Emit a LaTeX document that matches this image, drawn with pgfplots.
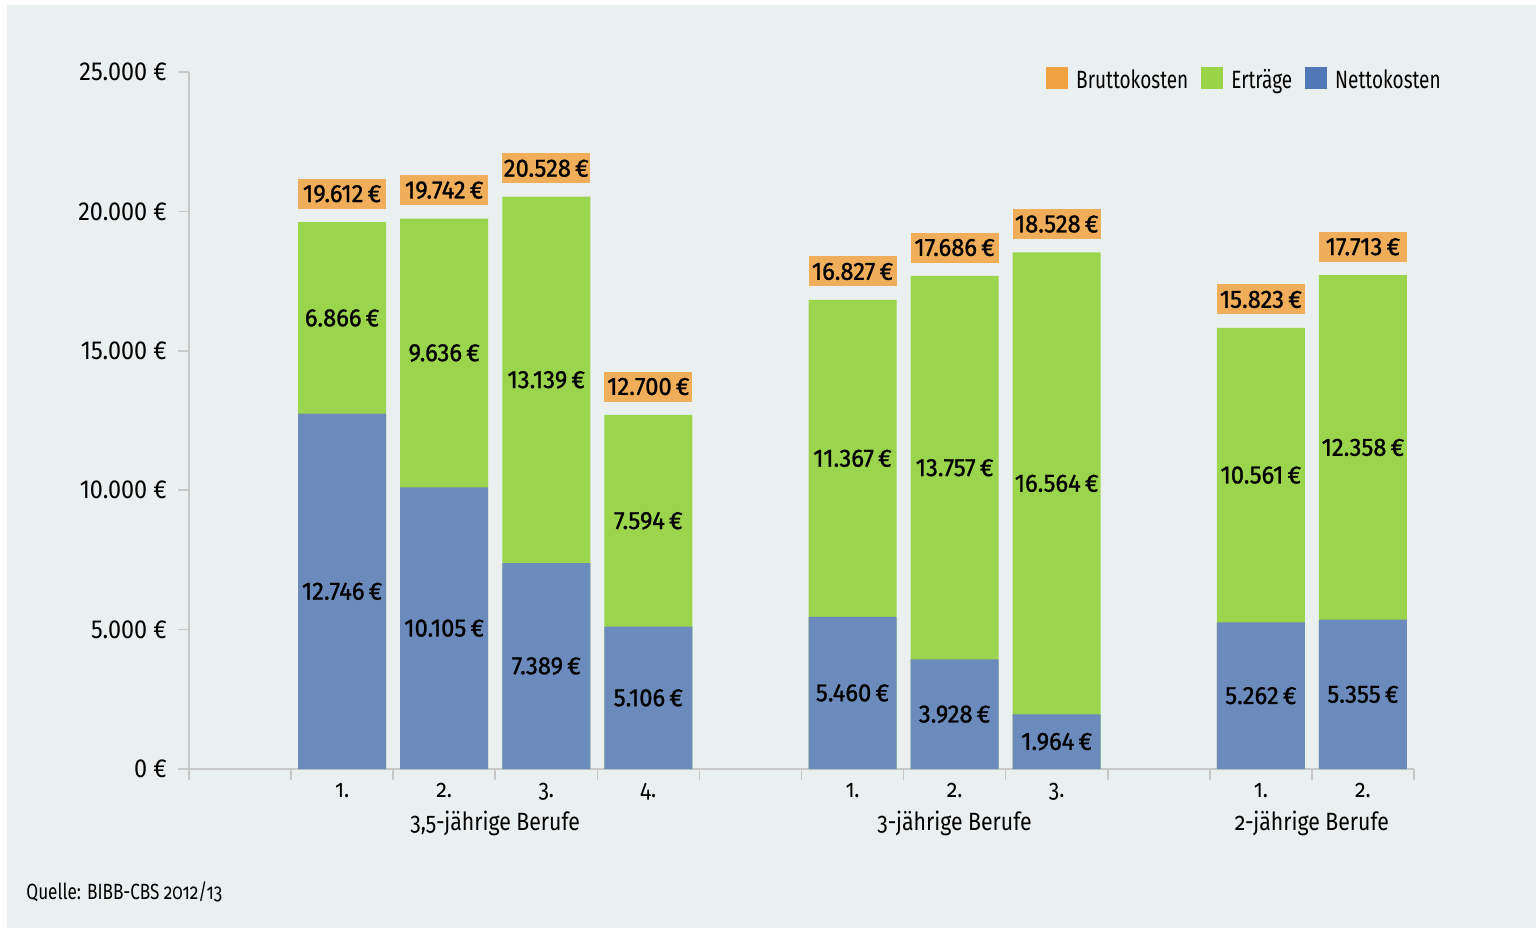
\documentclass[border=0pt]{standalone}
\usepackage{fontspec}
\setmainfont{Fira Sans}[FakeStretch=0.85]
\newfontfamily\osf{Fira Sans}[FakeStretch=0.85,Numbers=OldStyle]
\newfontfamily\srcfont{Fira Sans}[FakeStretch=0.78,Numbers=OldStyle]
\newfontfamily\legfont{Fira Sans}[FakeStretch=0.76]
\newfontfamily\tickfont{Fira Sans}[FakeStretch=0.9]
\newfontfamily\labfont{Fira Sans}[FakeStretch=0.95,FakeBold=1]
\usepackage{pgfplots}
\usepackage{pgfplotstable}
\pgfplotsset{compat=1.18}

\definecolor{bg}{HTML}{EAF0F0}
\definecolor{netto}{HTML}{6C8BBD}
\definecolor{ertrag}{HTML}{9BD54D}
\definecolor{brutto}{HTML}{F0AD5A}
\definecolor{lnetto}{HTML}{5078B4}
\definecolor{lertrag}{HTML}{9AD548}
\definecolor{lbrutto}{HTML}{F0A340}
\definecolor{axgray}{HTML}{C8C8C8}

\newcommand\tfont{\fontsize{12.5}{15}\selectfont}
\newcommand\lfont{\labfont\fontsize{12.5}{15}\selectfont}

% x = slot, n = Nettokosten, e = Ertraege, b = Bruttokosten
\pgfplotstableread{
x n e b
1 12746 6866 19612
2 10105 9636 19742
3 7389 13139 20528
4 5106 7594 12700
6 5460 11367 16827
7 3928 13757 17686
8 1964 16564 18528
10 5262 10561 15823
11 5355 12358 17713
}\kosten

\begin{document}
\begin{tikzpicture}
\fill[white] (-94.5pt,-79.5pt) rectangle (673.5pt,384.5pt);
\fill[bg] (-91pt,-79.5pt) rectangle (673.5pt,382pt);
\begin{axis}[
    scale only axis,
    width=612.5pt, height=348.5pt,
    xmin=-0.5, xmax=11.5,
    ymin=0, ymax=25000,
    clip=false,
    axis x line*=bottom, axis y line*=left,
    axis line style={draw=axgray, line width=0.8pt},
    tick style={draw=axgray, line width=0.8pt},
    tick align=outside,
    major tick length=5.5pt,
    xtick={-0.5,0.5,...,11.5},
    x tick label as interval,
    xticklabels={,1.,2.,3.,4.,,1.,2.,3.,,1.,2.},
    xticklabel style={font=\osf\tfont, yshift=2pt},
    ytick={0,5000,...,25000},
    scaled y ticks=false,
    yticklabel={\pgfmathprintnumber{\tick}~€},
    yticklabel style={font=\tickfont\fontsize{13}{15}\selectfont, xshift=-2pt},
    /pgf/number format/.cd, fixed, precision=0, 1000 sep={.}, assume math mode=true,
    /pgfplots/.cd,
    legend columns=-1,
    legend style={draw=none, fill=none, font=\legfont\fontsize{12.5}{15}\selectfont,
        at={(1.027,1.013)}, anchor=north east,
        nodes={inner sep=0pt},
        /tikz/every odd column/.append style={column sep=4pt},
        /tikz/every even column/.append style={column sep=6.5pt}},
    legend image code/.code={\fill[#1, draw=none] (0pt,-4.3pt) rectangle (11pt,6.7pt);},
]
\addlegendimage{fill=lbrutto}
\addlegendentry{Bruttokosten}
\addlegendimage{fill=lertrag}
\addlegendentry{Erträge}
\addlegendimage{fill=lnetto}
\addlegendentry{Nettokosten}

% bars: green up to the total, blue net part on top of it
\addplot[ybar, bar width=0.862, bar shift=0pt, fill=ertrag, draw=none, forget plot]
    table[x=x, y=b] {\kosten};
\addplot[ybar, bar width=0.862, bar shift=0pt, fill=netto, draw=none, forget plot]
    table[x=x, y=n] {\kosten};

% value labels
\addplot[only marks, mark=none, forget plot, point meta=explicit,
    nodes near coords={\pgfmathprintnumber{\pgfplotspointmeta}\,€},
    every node near coord/.append style={anchor=center, font=\lfont, text=black}]
    table[x=x, y expr=\thisrow{n}/2, meta=n] {\kosten};
\addplot[only marks, mark=none, forget plot, point meta=explicit,
    nodes near coords={\pgfmathprintnumber{\pgfplotspointmeta}\,€},
    every node near coord/.append style={anchor=center, font=\lfont, text=black}]
    table[x=x, y expr=\thisrow{n}+\thisrow{e}/2, meta=e] {\kosten};
\addplot[only marks, mark=none, forget plot, point meta=explicit,
    nodes near coords={\pgfmathprintnumber{\pgfplotspointmeta}\,€},
    every node near coord/.append style={anchor=south, yshift=6.5pt, fill=brutto,
        minimum width=44pt, minimum height=15pt, inner sep=0pt, font=\lfont, text=black}]
    table[x=x, y=b, meta=b] {\kosten};

\draw[axgray, line width=0.8pt] (rel axis cs:0,0) -- ++(-19.5pt,0);
\node[anchor=base, font=\osf\tfont] at (axis cs:2.5,0) [yshift=-30.5pt] {3,5-jährige Berufe};
\node[anchor=base, font=\osf\tfont] at (axis cs:7,0) [yshift=-30.5pt] {3-jährige Berufe};
\node[anchor=base, font=\osf\tfont] at (axis cs:10.5,0) [yshift=-30.5pt] {2-jährige Berufe};
\end{axis}
\node[anchor=base west, inner sep=0pt, font=\srcfont\fontsize{11}{13}\selectfont] at (-81.5pt,-65pt) {Quelle: BIBB-CBS 2012/13};
\pgfresetboundingbox
\path[use as bounding box] (-94.5pt,-79.5pt) rectangle (673.5pt,384.5pt);
\end{tikzpicture}
\end{document}
